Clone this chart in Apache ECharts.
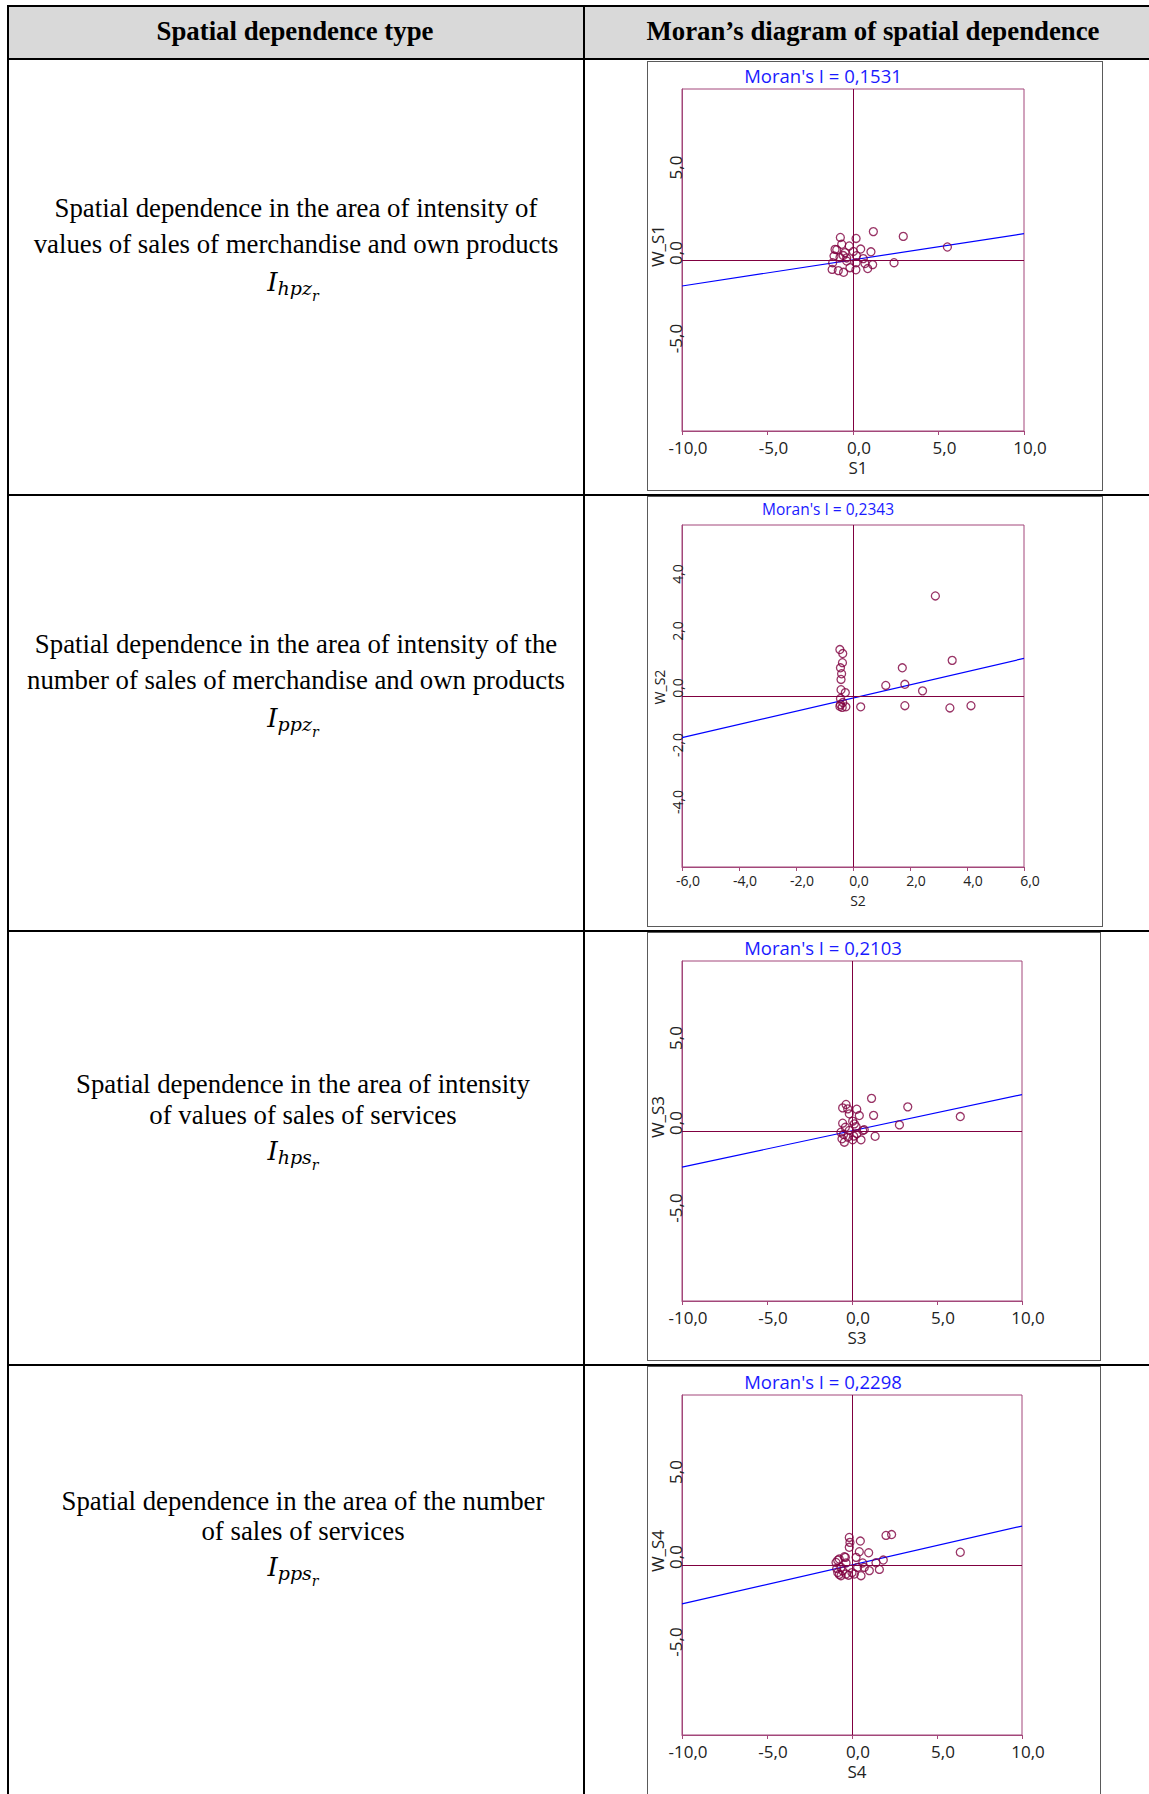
<!DOCTYPE html>
<html><head><meta charset="utf-8">
<script src="https://cdn.jsdelivr.net/npm/echarts@6/dist/echarts.min.js"></script>
<style>
html,body{margin:0;padding:0;background:#fff;}
#page{position:relative;width:1149px;height:1794px;overflow:hidden;font-family:"Liberation Serif","Times New Roman",serif;color:#000;}
.hl{position:absolute;height:2px;background:#000;left:7px;right:0;}
.vl{position:absolute;width:2px;background:#000;top:5px;bottom:0;}
.hdr{position:absolute;left:9px;right:0;top:7px;height:51px;background:#d9d9d9;}
.frame{position:absolute;border:1px solid #5a5a5a;box-sizing:border-box;}
.t{position:absolute;white-space:nowrap;font-size:26.8px;line-height:30px;height:30px;transform:translateX(-50%);}
.b{font-weight:bold;}
.mI,.ms,.mr{font-family:"DejaVu Serif",serif;font-style:italic;position:relative;}
.mI{font-size:26px;}
.ms{font-size:19px;top:4px;}
.mr{font-size:14px;top:10px;}
#chart{position:absolute;left:0;top:0;width:1149px;height:1794px;}
</style></head>
<body>
<div id="page">
  <div class="hdr"></div>
  <div class="hl" style="top:5px"></div>
  <div class="hl" style="top:58px"></div>
  <div class="hl" style="top:494px"></div>
  <div class="hl" style="top:930px"></div>
  <div class="hl" style="top:1364px"></div>
  <div class="vl" style="left:7px"></div>
  <div class="vl" style="left:583px"></div>

  <div class="frame" style="left:647px;top:61px;width:456px;height:430px"></div>
  <div class="frame" style="left:647px;top:496px;width:456px;height:431px"></div>
  <div class="frame" style="left:647px;top:932px;width:454px;height:429px"></div>
  <div class="frame" style="left:647px;top:1366px;width:454px;height:432px"></div>

  <div class="t b" style="left:295px;top:16px">Spatial dependence type</div>
  <div class="t b" style="left:873px;top:16px">Moran’s diagram of spatial dependence</div>

  <div class="t" style="left:296px;top:193px">Spatial dependence in the area of intensity of</div>
  <div class="t" style="left:296px;top:228.5px">values of sales of merchandise and own products</div>
  <div class="t" style="left:293px;top:267px"><span class="mI">I</span><span class="ms">hpz</span><span class="mr">r</span></div>

  <div class="t" style="left:296px;top:629px">Spatial dependence in the area of intensity of the</div>
  <div class="t" style="left:296px;top:664.5px">number of sales of merchandise and own products</div>
  <div class="t" style="left:293px;top:703px"><span class="mI">I</span><span class="ms">ppz</span><span class="mr">r</span></div>

  <div class="t" style="left:303px;top:1068.5px">Spatial dependence in the area of intensity</div>
  <div class="t" style="left:303px;top:1100px">of values of sales of services</div>
  <div class="t" style="left:293px;top:1135.5px"><span class="mI">I</span><span class="ms">hps</span><span class="mr">r</span></div>

  <div class="t" style="left:303px;top:1485.5px">Spatial dependence in the area of the number</div>
  <div class="t" style="left:303px;top:1515.5px">of sales of services</div>
  <div class="t" style="left:293px;top:1552px"><span class="mI">I</span><span class="ms">pps</span><span class="mr">r</span></div>

  <div id="chart"></div>
</div>
<script>
// ---- data ----
const moranTitles = ["Moran's I = 0,1531", "Moran's I = 0,2343", "Moran's I = 0,2103", "Moran's I = 0,2298"];
const xNames = ['S1', 'S2', 'S3', 'S4'];
const yNames = ['W_S1', 'W_S2', 'W_S3', 'W_S4'];
const axisMin = [-10, -6, -10, -10];
const axisMax = [10, 6, 10, 10];
const axisStep = [5, 2, 5, 5];

const s1Points = [
  [1.19,1.66],[2.94,1.38],[5.52,0.76],[2.40,-0.16],
  [-0.74,1.32],[0.18,1.26],[-0.66,0.92],[-0.22,0.82],
  [-1.05,0.62],[-0.95,0.60],[-0.47,0.43],[0.02,0.50],[0.45,0.64],[1.05,0.48],
  [-1.11,0.23],[-0.76,0.14],[-0.37,0.12],[0.20,0.25],[0.60,0.08],[-0.57,0.26],
  [-1.19,-0.16],[-0.37,-0.06],[0.18,-0.16],[0.70,-0.21],[1.15,-0.27],
  [-1.22,-0.55],[-0.86,-0.62],[-0.55,-0.72],[-0.18,-0.45],[0.17,-0.57],[0.86,-0.50]
];
const s2Points = [
  [2.89,3.51],[3.48,1.25],[1.73,0.99],[1.15,0.37],[1.82,0.41],[2.44,0.18],
  [1.82,-0.34],[3.40,-0.42],[4.14,-0.34],[0.27,-0.38],
  [-0.46,1.63],[-0.36,1.49],[-0.37,1.17],[-0.44,0.99],[-0.40,0.78],[-0.42,0.58],
  [-0.42,0.22],[-0.27,0.12],[-0.44,-0.09],[-0.36,-0.23],[-0.46,-0.36],[-0.25,-0.38],
  [-0.38,-0.40],[-0.44,-0.30]
];
const s3Points = [
  [6.37,0.85],[3.28,1.42],[1.15,1.92],[1.27,0.92],[2.79,0.36],[1.36,-0.31],
  [-0.35,1.56],[-0.55,1.36],[-0.25,1.30],[0.28,1.28],[-0.16,1.01],[0.43,0.91],
  [-0.55,0.46],[0.04,0.58],[0.14,0.42],[-0.39,0.22],[0.24,0.26],[-0.65,-0.07],
  [-0.16,0.03],[0.29,-0.16],[0.72,0.07],[0.63,0.03],[-0.59,-0.46],[0.04,-0.52],
  [0.53,-0.52],[-0.45,-0.66],[-0.25,-0.36],[-0.50,-0.20],[0.10,-0.30]
];
const s4Points = [
  [6.37,0.75],[2.00,1.74],[2.33,1.79],[0.49,1.41],[-0.16,1.62],[-0.12,1.33],
  [-0.16,1.04],[0.98,0.72],[0.43,0.78],[-0.39,0.45],[0.24,0.45],[-0.75,0.35],
  [-0.84,0.28],[1.84,0.29],[1.41,0.13],[-0.94,0.15],[-0.35,0.12],[0.63,0.12],
  [-0.65,-0.14],[0.33,-0.14],[0.72,-0.14],[1.61,-0.26],[-0.84,-0.44],[-0.35,-0.53],
  [0.14,-0.53],[1.02,-0.33],[0.53,-0.63],[-0.65,-0.63],[-0.45,0.49],[-0.55,-0.35],
  [0.00,-0.45],[-0.90,-0.20],[-0.75,-0.55],[-0.20,-0.60]
];
const fit1 = [[-10,-1.52],[10,1.54]];
const fit2 = [[-6,-1.46],[6,1.32]];
const fit3 = [[-10,-2.12],[10,2.14]];
const fit4 = [[-10,-2.29],[10,2.29]];

const allPoints = [s1Points, s2Points, s3Points, s4Points];
const allFits = [fit1, fit2, fit3, fit4];

// ---- layout / style ----
const L = [
  {grid:{left:682,top:89,width:342,height:342}, tx:823, ty:75, ts:18.5, ls:17, xm:8, xng:28, yls:14, yns:28, yng:8.5},
  {grid:{left:682,top:525,width:342,height:342}, tx:828, ty:509, ts:15.5, ls:14, xm:6, xng:26, yls:16, yns:18, yng:16},
  {grid:{left:682,top:961,width:340,height:340}, tx:823, ty:947, ts:18.5, ls:17, xm:8, xng:28, yls:16, yns:28, yng:9},
  {grid:{left:682,top:1395,width:340,height:340}, tx:823, ty:1381, ts:18.5, ls:17, xm:8, xng:28, yls:16, yns:28, yng:9}
];
const FRAME = '#a3477a';
const ZERO = '#800040';
const PT = '#800040';
const FONT = '"Open Sans","Noto Sans",sans-serif';
const fmt = v => v.toFixed(1).replace('.', ',');

const chart = echarts.init(document.getElementById('chart'), null, {renderer: 'svg'});
const option = {
  animation: false,
  grid: L.map(l => Object.assign({show:true, borderColor:FRAME, borderWidth:1, backgroundColor:'transparent', containLabel:false, outerBoundsMode:'none'}, l.grid)),
  xAxis: L.map((l,i) => ({
    gridIndex:i, type:'value', min:axisMin[i], max:axisMax[i], interval:axisStep[i],
    axisLine:{show:true, onZero:false, lineStyle:{color:FRAME, width:1}},
    axisTick:{show:true, length:4, lineStyle:{color:FRAME}},
    splitLine:{show:false},
    axisLabel:{show:true, formatter:fmt, fontSize:l.ls, fontFamily:FONT, color:'#222', margin:l.xm, padding:[0,0,0,12]},
    name:xNames[i], nameLocation:'middle', nameGap:l.xng,
    nameTextStyle:{fontSize:l.ls, fontFamily:FONT, color:'#222', padding:[0,0,0,10]}
  })),
  yAxis: L.map((l,i) => ({
    gridIndex:i, type:'value', min:axisMin[i], max:axisMax[i], interval:axisStep[i],
    axisLine:{show:true, onZero:false, lineStyle:{color:FRAME, width:1}},
    axisTick:{show:false},
    splitLine:{show:false},
    axisLabel:{show:true, formatter:fmt, rotate:90, showMinLabel:false, showMaxLabel:false,
      fontSize:l.ls, fontFamily:FONT, color:'#222', margin:-2, padding:[0,0,0,l.yls]},
    name:yNames[i], nameLocation:'middle', nameRotate:90, nameGap:l.yng,
    nameTextStyle:{fontSize:l.ls, fontFamily:FONT, color:'#222', padding:[0,0,0,l.yns]}
  })),
  graphic: L.map((l,i) => ({
    type:'text', x:l.tx, y:l.ty, silent:true,
    style:{text:moranTitles[i], fill:'#1a1aff', fontSize:l.ts, fontFamily:FONT, align:'center', verticalAlign:'middle'}
  })),
  series: [].concat(...L.map((l,i) => [
    {type:'line', xAxisIndex:i, yAxisIndex:i, data:allFits[i], showSymbol:false, symbol:'none', silent:true,
     lineStyle:{color:'#0000ff', width:1.2}, z:3},
    {type:'scatter', xAxisIndex:i, yAxisIndex:i, data:allPoints[i], symbol:'circle', symbolSize:8, silent:true,
     itemStyle:{color:'rgba(0,0,0,0)', borderColor:PT, borderWidth:1.3}, z:4,
     markLine:{silent:true, symbol:['none','none'], label:{show:false}, animation:false,
       lineStyle:{color:ZERO, width:1, type:'solid'}, data:[{xAxis:0},{yAxis:0}]}}
  ]))
};
chart.setOption(option);
</script>
</body></html>
